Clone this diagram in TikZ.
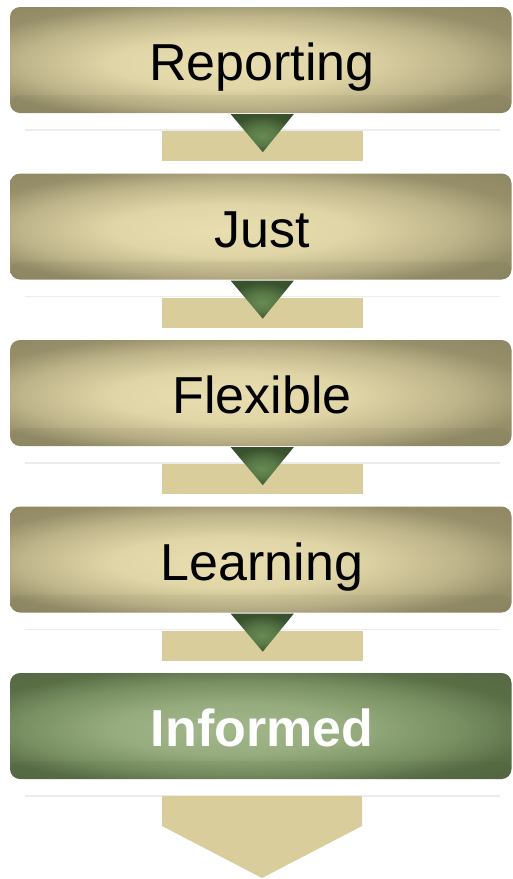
\documentclass[tikz,border=0pt]{standalone}
\usepackage{fontspec}
\setmainfont{Liberation Sans}
\usetikzlibrary{calc}
\definecolor{rectfill}{HTML}{D9CD9C}
\definecolor{glinecol}{HTML}{ECECEC}
\pgfdeclareradialshading{tanshade}{\pgfpoint{-4bp}{-2bp}}{%
  color(0bp)=(rgb,255:red,233;green,222;blue,176);
  color(12bp)=(rgb,255:red,224;green,213;blue,166);
  color(22bp)=(rgb,255:red,190;green,180;blue,138);
  color(29bp)=(rgb,255:red,150;green,143;blue,105);
  color(45bp)=(rgb,255:red,132;green,125;blue,92)}
\pgfdeclareradialshading{greenshade}{\pgfpoint{-4bp}{-2bp}}{%
  color(0bp)=(rgb,255:red,163;green,184;blue,138);
  color(12bp)=(rgb,255:red,150;green,172;blue,126);
  color(22bp)=(rgb,255:red,120;green,143;blue,98);
  color(29bp)=(rgb,255:red,90;green,110;blue,70);
  color(45bp)=(rgb,255:red,80;green,98;blue,62)}
\pgfdeclareradialshading{trishade}{\pgfpoint{0bp}{-4bp}}{%
  color(0bp)=(rgb,255:red,104;green,138;blue,82);
  color(12bp)=(rgb,255:red,88;green,120;blue,70);
  color(25bp)=(rgb,255:red,58;green,82;blue,46);
  color(50bp)=(rgb,255:red,50;green,72;blue,40)}
\tikzset{
  stagebox/.style={rounded corners=10pt, minimum width=501.5pt, minimum height=106pt,
    inner sep=0pt, text height=41pt, text depth=0pt, font=\fontsize{52}{52}\selectfont,
    path picture={\fill[black,opacity=0.035] ([yshift=18pt]path picture bounding box.south west) rectangle (path picture bounding box.south east);}},
  tanbox/.style={stagebox, shading=tanshade, text=black},
  greenbox/.style={stagebox, shading=greenshade, text=white, font=\fontsize{52}{52}\selectfont\bfseries},
  barrect/.style={fill=rectfill, draw=none},
  gline/.style={draw=glinecol, line width=1.5pt},
  tri/.style={shading=trishade, draw=none}
}
\begin{document}
\begin{tikzpicture}[x=1pt,y=-1pt]
\useasboundingbox (0,0) rectangle (512,879);
\foreach \i in {1,2,3,4,5}{
  \pgfmathsetmacro{\top}{7+(\i-1)*166.5}
  \coordinate (gl\i a) at (25,\top+123);
  \coordinate (gl\i b) at (500,\top+123);
  \draw[gline] (gl\i a) -- (gl\i b);
}
\foreach \i in {1,2,3,4}{
  \pgfmathsetmacro{\top}{7+(\i-1)*166.5}
  \node[barrect, minimum width=201pt, minimum height=30pt, inner sep=0pt] (r\i) at (262.5,\top+139) {};
}
\foreach \i/\t/\s in {1/Reporting/tanbox,2/Just/tanbox,3/Flexible/tanbox,4/Learning/tanbox,5/Informed/greenbox}{
  \pgfmathsetmacro{\top}{7+(\i-1)*166.5}
  \node[\s] (b\i) at (260.75,\top+53) {\hspace*{2.5pt}\t};
}
\foreach \i in {1,2,3,4}{
  \coordinate (ta\i) at ($(b\i.south)+(-30,1)$);
  \coordinate (tb\i) at ($(b\i.south)+(33,1)$);
  \coordinate (tc\i) at ($(b\i.south)+(2,39)$);
  \shade[tri] (ta\i) -- (tb\i) -- (tc\i) -- cycle;
}
\coordinate (fa) at (162,796);
\coordinate (fb) at (362,796);
\coordinate (fc) at (362,826);
\coordinate (fd) at (262,878);
\coordinate (fe) at (162,826);
\fill[rectfill] (fa) -- (fb) -- (fc) -- (fd) -- (fe) -- cycle;
\end{tikzpicture}
\end{document}
